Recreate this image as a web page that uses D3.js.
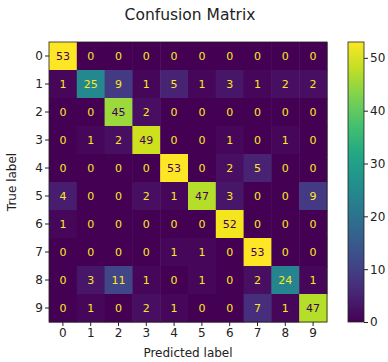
<!DOCTYPE html>
<html>
<head>
<meta charset="utf-8">
<script src="https://cdn.jsdelivr.net/npm/d3@7"></script>
<style>
  body { margin: 0; background: #fff; }
  svg text { font-family: "DejaVu Sans", sans-serif; }
</style>
</head>
<body>
<svg id="chart" width="388" height="362"></svg>
<script>
// Étiquettes des classes
const labels = [0, 1, 2, 3, 4, 5, 6, 7, 8, 9];

// Lignes de la matrice (vraie classe), colonnes = classe prédite
const row0 = [53, 0, 0, 0, 0, 0, 0, 0, 0, 0];
const row1 = [1, 25, 9, 1, 5, 1, 3, 1, 2, 2];
const row2 = [0, 0, 45, 2, 0, 0, 0, 0, 0, 0];
const row3 = [0, 1, 2, 49, 0, 0, 1, 0, 1, 0];
const row4 = [0, 0, 0, 0, 53, 0, 2, 5, 0, 0];
const row5 = [4, 0, 0, 2, 1, 47, 3, 0, 0, 9];
const row6 = [1, 0, 0, 0, 0, 0, 52, 0, 0, 0];
const row7 = [0, 0, 0, 0, 1, 1, 0, 53, 0, 0];
const row8 = [0, 3, 11, 1, 0, 1, 0, 2, 24, 1];
const row9 = [0, 1, 0, 2, 1, 0, 0, 7, 1, 47];
const rows = [row0, row1, row2, row3, row4, row5, row6, row7, row8, row9];

const colorTicks = [0, 10, 20, 30, 40, 50];

const svg = d3.select("#chart");

// Zone de la matrice
const mLeft = 49, mRight = 327, mTop = 42, mBottom = 322;

const x = d3.scaleBand().domain(labels).range([mLeft, mRight]);
const y = d3.scaleBand().domain(labels).range([mTop, mBottom]);

const vmin = d3.min(rows, r => d3.min(r));
const vmax = d3.max(rows, r => d3.max(r));
const color = d3.scaleSequential(d3.interpolateViridis).domain([vmin, vmax]);
const thresh = (vmax + vmin) / 2;

const cells = [];
rows.forEach((r, i) => r.forEach((v, j) => cells.push({ t: labels[i], p: labels[j], v: v })));

svg.append("g").selectAll("rect")
    .data(cells)
    .join("rect")
    .attr("x", d => x(d.p))
    .attr("y", d => y(d.t))
    .attr("width", x.bandwidth() + 0.5)
    .attr("height", y.bandwidth() + 0.5)
    .attr("fill", d => color(d.v));

svg.append("g").selectAll("text")
    .data(cells)
    .join("text")
    .attr("x", d => x(d.p) + x.bandwidth() / 2)
    .attr("y", d => y(d.t) + y.bandwidth() / 2)
    .attr("text-anchor", "middle")
    .attr("dominant-baseline", "central")
    .attr("font-size", 11)
    .attr("fill", d => d.v < thresh ? color(vmax) : color(vmin))
    .text(d => d.v);

// Axes
const xAxis = svg.append("g")
    .attr("transform", `translate(0,${mBottom})`)
    .call(d3.axisBottom(x).tickSize(4).tickPadding(2));
const yAxis = svg.append("g")
    .attr("transform", `translate(${mLeft},0)`)
    .call(d3.axisLeft(y).tickSize(4).tickPadding(2));
[xAxis, yAxis].forEach(a => {
    a.select(".domain").remove();
    a.selectAll("text").attr("font-size", 12).attr("fill", "#222").style("font-family", "DejaVu Sans");
    a.selectAll("line").attr("stroke", "#222");
});

svg.append("rect")
    .attr("x", mLeft).attr("y", mTop)
    .attr("width", mRight - mLeft).attr("height", mBottom - mTop)
    .attr("fill", "none").attr("stroke", "#222").attr("stroke-width", 0.8);

// Titres
svg.append("text")
    .attr("x", 190).attr("y", 20)
    .attr("text-anchor", "middle").attr("font-size", 15.5).attr("fill", "#222")
    .text("Confusion Matrix");

svg.append("text")
    .attr("x", (mLeft + mRight) / 2).attr("y", 357)
    .attr("text-anchor", "middle").attr("font-size", 12).attr("fill", "#222")
    .text("Predicted label");

svg.append("text")
    .attr("transform", `translate(16,${(mTop + mBottom) / 2}) rotate(-90)`)
    .attr("text-anchor", "middle").attr("font-size", 12).attr("fill", "#222")
    .text("True label");

// Barre de couleur
const cbLeft = 348, cbWidth = 16;
const cy = d3.scaleLinear().domain([vmin, vmax]).range([mBottom, mTop]);

const defs = svg.append("defs");
const grad = defs.append("linearGradient")
    .attr("id", "cb").attr("x1", 0).attr("y1", 1).attr("x2", 0).attr("y2", 0);
d3.range(0, 1.01, 0.1).forEach(t => {
    grad.append("stop").attr("offset", t).attr("stop-color", d3.interpolateViridis(t));
});

svg.append("rect")
    .attr("x", cbLeft).attr("y", mTop)
    .attr("width", cbWidth).attr("height", mBottom - mTop)
    .attr("fill", "url(#cb)").attr("stroke", "#222").attr("stroke-width", 0.8);

const cAxis = svg.append("g")
    .attr("transform", `translate(${cbLeft + cbWidth},0)`)
    .call(d3.axisRight(cy).tickValues(colorTicks).tickSize(4).tickPadding(2));
cAxis.select(".domain").remove();
cAxis.selectAll("text").attr("font-size", 12).attr("fill", "#222").style("font-family", "DejaVu Sans");
cAxis.selectAll("line").attr("stroke", "#222");
</script>
</body>
</html>
